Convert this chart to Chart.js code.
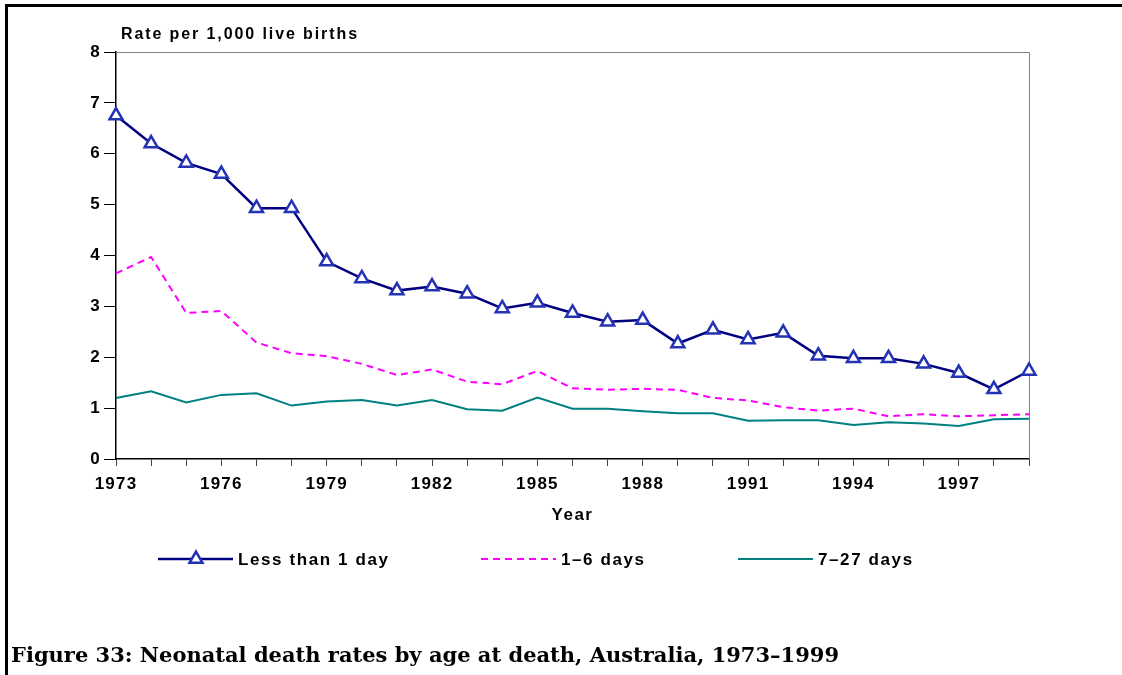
<!DOCTYPE html>
<html>
<head>
<meta charset="utf-8">
<title>Neonatal death rates</title>
<script src="https://cdn.jsdelivr.net/npm/chart.js@4.4.1/dist/chart.umd.min.js"></script>
<style>
  body { margin: 0; background: #fff; }
  #wrap { position: relative; width: 1122px; height: 675px; overflow: hidden; background: #fff; }
  #frame { position: absolute; left: 5px; top: 4px; right: 0; bottom: 0; border-top: 3px solid #000; border-left: 3px solid #000; }
  #chart { position: absolute; left: 0; top: 0; }
  #caption { position: absolute; left: 11px; top: 644px; font: bold 21px "DejaVu Serif"; line-height: 22px; white-space: nowrap; color: #000; }
</style>
</head>
<body>
<div id="wrap">
  <div id="frame"></div>
  <canvas id="chart" width="1122" height="675"></canvas>
  <div id="caption">Figure 33: Neonatal death rates by age at death, Australia, 1973–1999</div>
</div>
<script>
const years = ["1973", "1974", "1975", "1976", "1977", "1978", "1979", "1980", "1981",
    "1982", "1983", "1984", "1985", "1986", "1987", "1988", "1989", "1990", "1991",
    "1992", "1993", "1994", "1995", "1996", "1997", "1998", "1999"];

const lessThan1Day = [6.75, 6.20, 5.82, 5.60, 4.93, 4.93, 3.88, 3.55, 3.31, 3.39, 3.25, 2.96, 3.07,
    2.87, 2.70, 2.73, 2.27, 2.54, 2.35, 2.48, 2.03, 1.98, 1.98, 1.87, 1.69, 1.37, 1.73];
const days1to6 = [3.65, 3.97, 2.87, 2.91, 2.29, 2.08, 2.02, 1.87, 1.65, 1.76, 1.52, 1.47, 1.73,
    1.39, 1.36, 1.38, 1.36, 1.20, 1.15, 1.02, 0.95, 0.99, 0.84, 0.88, 0.84, 0.86, 0.88];
const days7to27 = [1.20, 1.33, 1.11, 1.26, 1.29, 1.05, 1.13, 1.16, 1.05, 1.16, 0.98, 0.95, 1.21,
    0.99, 0.99, 0.94, 0.90, 0.90, 0.75, 0.76, 0.76, 0.67, 0.72, 0.70, 0.65, 0.78, 0.79];

const seriesNames = ["Less than 1 day", "1\u20136 days", "7\u201327 days"];
const yTitle = "Rate per 1,000 live births";
const xTitle = "Year";

const FONT = "'Liberation Sans', Arial, sans-serif";

// frame lines on top/right of plot, axis titles and the line-sample legend
const decorations = {
    id: "decorations",
    beforeDraw(chart) {
        chart.ctx.letterSpacing = "1.2px";
    },
    beforeDatasetsDraw(chart) {
        const { ctx, chartArea: a } = chart;
        ctx.save();
        ctx.strokeStyle = "#808080";
        ctx.lineWidth = 1;
        ctx.beginPath();
        ctx.moveTo(a.left, a.top + 0.5);
        ctx.lineTo(a.right + 0.5, a.top + 0.5);
        ctx.lineTo(a.right + 0.5, a.bottom);
        ctx.stroke();
        ctx.restore();
    },
    afterDraw(chart) {
        const { ctx, chartArea: a } = chart;
        ctx.save();
        ctx.fillStyle = "#000";
        ctx.textBaseline = "middle";

        ctx.letterSpacing = "1.9px";
        ctx.font = "bold 16px " + FONT;
        ctx.textAlign = "left";
        ctx.fillText(yTitle, a.left + 5, 35);

        ctx.letterSpacing = "1.5px";
        ctx.font = "bold 17px " + FONT;
        ctx.textAlign = "center";
        ctx.fillText(xTitle, (a.left + a.right) / 2, 515);

        // legend
        const starts = [158, 481, 738];
        const ly = 559;
        chart.data.datasets.forEach((ds, i) => {
            const x0 = starts[i];
            ctx.save();
            ctx.strokeStyle = ds.borderColor;
            ctx.lineWidth = ds.borderWidth;
            ctx.setLineDash(ds.borderDash || []);
            ctx.beginPath();
            ctx.moveTo(x0, ly);
            ctx.lineTo(x0 + 75, ly);
            ctx.stroke();
            ctx.restore();
            if (ds.pointRadius > 0) {
                const r = ds.pointRadius, cx = x0 + 38;
                ctx.save();
                ctx.strokeStyle = ds.pointBorderColor;
                ctx.fillStyle = ds.pointBackgroundColor;
                ctx.lineWidth = ds.pointBorderWidth;
                ctx.beginPath();
                for (let k = 0; k < 3; k++) {
                    const ang = k * 2 * Math.PI / 3;
                    const px = cx + Math.sin(ang) * r, py = ly - Math.cos(ang) * r;
                    if (k === 0) ctx.moveTo(px, py); else ctx.lineTo(px, py);
                }
                ctx.closePath();
                ctx.fill();
                ctx.stroke();
                ctx.restore();
            }
            ctx.fillStyle = "#000";
            ctx.textAlign = "left";
            ctx.letterSpacing = "1.6px";
            ctx.font = "bold 17px " + FONT;
            ctx.fillText(ds.label, x0 + 80, ly + 1);
        });
        ctx.restore();
    }
};

new Chart(document.getElementById("chart"), {
    type: "line",
    data: {
        labels: years,
        datasets: [{
            label: seriesNames[0],
            data: lessThan1Day,
            borderColor: "#000080",
            borderWidth: 2.5,
            pointStyle: "triangle",
            pointRadius: 7.5,
            pointBorderWidth: 2.5,
            pointBorderColor: "#2433b4",
            pointBackgroundColor: "#ffffff",
            tension: 0,
            clip: false
        }, {
            label: seriesNames[1],
            data: days1to6,
            borderColor: "#ff00ff",
            borderWidth: 2,
            borderDash: [7, 5],
            pointRadius: 0,
            tension: 0,
            clip: false
        }, {
            label: seriesNames[2],
            data: days7to27,
            borderColor: "#008080",
            borderWidth: 2,
            pointRadius: 0,
            tension: 0,
            clip: false
        }]
    },
    options: {
        responsive: false,
        animation: false,
        events: [],
        layout: { padding: { left: 0, top: 52, right: 93, bottom: 0 } },
        plugins: {
            legend: { display: false },
            tooltip: { enabled: false }
        },
        scales: {
            x: {
                type: "category",
                offset: false,
                afterFit: s => { s.height = 216; },
                grid: {
                    offset: false,
                    drawOnChartArea: false,
                    drawTicks: true,
                    tickLength: 7,
                    color: "#444"
                },
                border: { display: true, color: "#000", width: 1.5 },
                ticks: {
                    autoSkip: false,
                    maxRotation: 0,
                    padding: 8,
                    color: "#000",
                    font: { family: FONT, size: 17, weight: "bold" },
                    callback: (v, i) => (i % 3 === 0 ? years[i] : "")
                }
            },
            y: {
                min: 0,
                max: 8,
                afterFit: s => { s.width = 116; },
                grid: {
                    drawOnChartArea: false,
                    drawTicks: true,
                    tickLength: 12,
                    color: "#000"
                },
                border: { display: true, color: "#000", width: 1.5 },
                ticks: {
                    stepSize: 1,
                    padding: 3,
                    color: "#000",
                    font: { family: FONT, size: 17, weight: "bold" }
                }
            }
        }
    },
    plugins: [decorations]
});
</script>
</body>
</html>
